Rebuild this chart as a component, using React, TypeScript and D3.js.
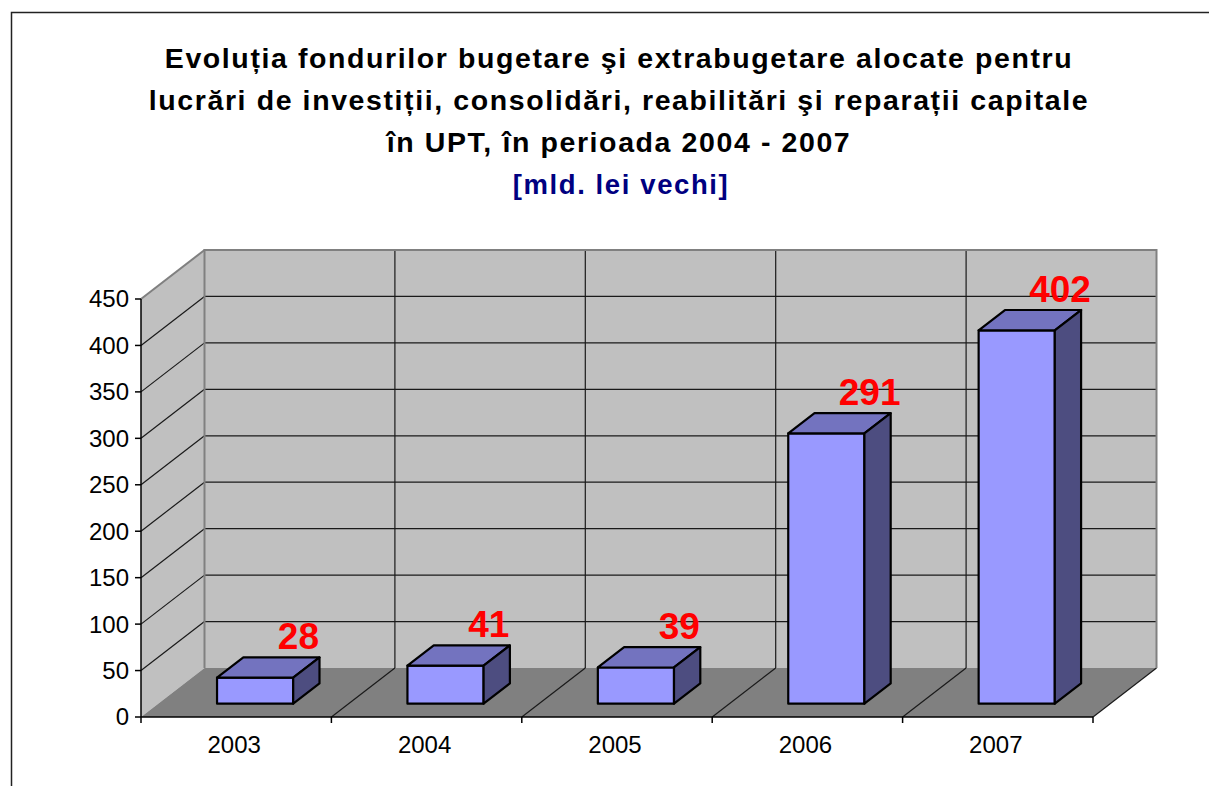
import React from "react";
import * as d3 from "d3";

const years = ["2003", "2004", "2005", "2006", "2007"];
const values = [28, 41, 39, 291, 402];
const yTicks = [0, 50, 100, 150, 200, 250, 300, 350, 400, 450];
const titleLines = [
  "Evoluția fondurilor bugetare şi extrabugetare alocate pentru",
  "lucrări de investiții, consolidări, reabilitări şi reparații capitale",
  "în UPT, în perioada 2004 - 2007",
];
const subtitle = "[mld. lei vechi]";

const W = 1209;
const H = 786;
const FONT = "'Liberation Sans', Arial, Helvetica, sans-serif";

export default function App() {
  const x = d3.scaleBand<string>().domain(years).range([141, 1093]).padding(0);
  const y = d3.scaleLinear().domain([0, 450]).range([717, 299]);
  const DX = 63.5;
  const DY = -49;
  const bw = x.bandwidth();
  const d0 = 0.271;
  const d1 = 0.685;
  const barW = bw * 0.4;
  const barOff = bw * 0.309;

  const P = (px: number, v: number, d: number): [number, number] => [px + DX * d, y(v) + DY * d];
  const pts = (arr: [number, number][]) => arr.map((p) => p.join(",")).join(" ");

  const x0 = 141;
  const x1 = 1093;
  const vMax = 450;

  const leftWall = pts([P(x0, 0, 0), P(x0, vMax, 0), P(x0, vMax, 1), P(x0, 0, 1)]);
  const backWall = pts([P(x0, 0, 1), P(x0, vMax, 1), P(x1, vMax, 1), P(x1, 0, 1)]);
  const floor = pts([P(x0, 0, 0), P(x1, 0, 0), P(x1, 0, 1), P(x0, 0, 1)]);

  const boundaries = years.map((yr) => x(yr) as number).concat([x1]);
  const innerGrid = yTicks.filter((t) => t > 0 && t < vMax);

  return (
    <svg
      width={W}
      height={H}
      style={{ position: "absolute", left: 0, top: 0, display: "block", background: "#fff" }}
      fontFamily={FONT}
    >
      <rect x={11.5} y={12.5} width={1400} height={1000} fill="#fff" stroke="#222" strokeWidth={1.5} />

      {titleLines.map((t, i) => (
        <text
          key={t}
          x={619}
          y={68 + i * 42}
          textAnchor="middle"
          fontSize={28.5}
          fontWeight="bold"
          letterSpacing={1.6}
          fill="#000"
        >
          {t}
        </text>
      ))}
      <text x={621} y={194} textAnchor="middle" fontSize={27.5} fontWeight="bold" letterSpacing={1.6} fill="#000080">
        {subtitle}
      </text>

      {/* walls and floor */}
      <polygon points={leftWall} fill="#c0c0c0" />
      <polygon points={backWall} fill="#c0c0c0" />
      <polygon points={floor} fill="#808080" />

      {/* back wall horizontal gridlines */}
      {innerGrid.map((t) => {
        const a = P(x0, t, 1);
        const b = P(x1, t, 1);
        return <line key={"bh" + t} x1={a[0]} y1={a[1]} x2={b[0]} y2={b[1]} stroke="#1a1a1a" strokeWidth={1.2} />;
      })}
      {/* left wall diagonals */}
      {innerGrid.map((t) => {
        const a = P(x0, t, 0);
        const b = P(x0, t, 1);
        return <line key={"ld" + t} x1={a[0]} y1={a[1]} x2={b[0]} y2={b[1]} stroke="#1a1a1a" strokeWidth={1.2} />;
      })}
      {/* back wall vertical gridlines */}
      {boundaries.slice(1, -1).map((bx) => {
        const a = P(bx, 0, 1);
        const b = P(bx, vMax, 1);
        return <line key={"bv" + bx} x1={a[0]} y1={a[1]} x2={b[0]} y2={b[1]} stroke="#1a1a1a" strokeWidth={1.2} />;
      })}
      {/* floor diagonals */}
      {boundaries.slice(1).map((bx) => {
        const a = P(bx, 0, 0);
        const b = P(bx, 0, 1);
        return <line key={"fd" + bx} x1={a[0]} y1={a[1]} x2={b[0]} y2={b[1]} stroke="#1a1a1a" strokeWidth={1.2} />;
      })}

      {/* wall outlines */}
      <polyline
        points={pts([P(x0, 0, 1), P(x0, vMax, 1), P(x1, vMax, 1), P(x1, 0, 1)])}
        fill="none"
        stroke="#808080"
        strokeWidth={2}
      />
      <polyline points={pts([P(x0, vMax, 0), P(x0, vMax, 1)])} fill="none" stroke="#808080" strokeWidth={2} />

      {/* y axis */}
      <line x1={x0} y1={y(0)} x2={x0} y2={y(vMax)} stroke="#000" strokeWidth={1.5} />
      {yTicks.map((t) => (
        <g key={"yt" + t}>
          <line x1={x0 - 6} y1={y(t)} x2={x0} y2={y(t)} stroke="#000" strokeWidth={1.5} />
          <text x={129} y={y(t)} dy="0.35em" textAnchor="end" fontSize={24} fill="#000">
            {t}
          </text>
        </g>
      ))}

      {/* x axis */}
      <line x1={x0} y1={y(0)} x2={x1} y2={y(0)} stroke="#000" strokeWidth={1.5} />
      {boundaries.map((bx) => (
        <line key={"xt" + bx} x1={bx} y1={y(0)} x2={bx} y2={y(0) + 6} stroke="#000" strokeWidth={1.5} />
      ))}
      {years.map((yr) => (
        <text key={"xl" + yr} x={(x(yr) as number) + bw / 2 - 2} y={753} textAnchor="middle" fontSize={24} fill="#000">
          {yr}
        </text>
      ))}

      {/* bars */}
      {years.map((yr, i) => {
        const v = values[i];
        const L = (x(yr) as number) + barOff;
        const R = L + barW;
        const front = pts([P(L, 0, d0), P(L, v, d0), P(R, v, d0), P(R, 0, d0)]);
        const top = pts([P(L, v, d0), P(R, v, d0), P(R, v, d1), P(L, v, d1)]);
        const side = pts([P(R, v, d0), P(R, v, d1), P(R, 0, d1), P(R, 0, d0)]);
        return (
          <g key={"bar" + yr} stroke="#000" strokeWidth={2.2} strokeLinejoin="round">
            <polygon points={front} fill="#9999ff" />
            <polygon points={top} fill="#7373bf" />
            <polygon points={side} fill="#4d4d80" />
          </g>
        );
      })}

      {/* value labels */}
      {years.map((yr, i) => {
        const v = values[i];
        const L = (x(yr) as number) + barOff;
        const c = P(L + barW / 2, v, d1);
        return (
          <text
            key={"vl" + yr}
            x={c[0] + 17}
            y={c[1] - 8}
            textAnchor="middle"
            fontSize={37}
            fontWeight="bold"
            fill="#ff0000"
          >
            {v}
          </text>
        );
      })}
    </svg>
  );
}
